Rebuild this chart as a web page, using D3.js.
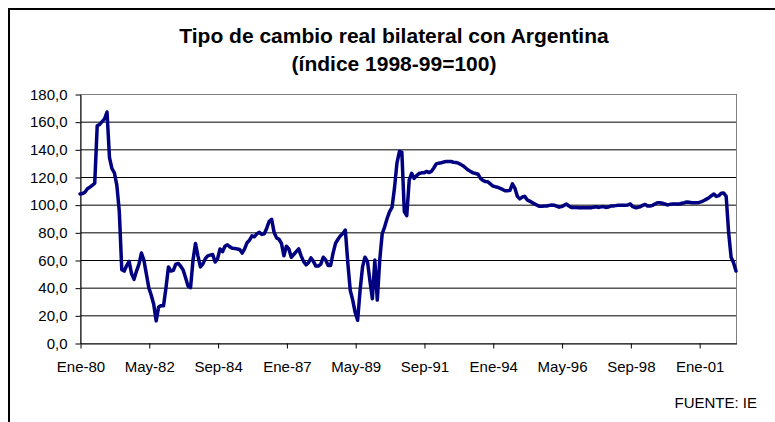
<!DOCTYPE html>
<html>
<head>
<meta charset="utf-8">
<script src="https://cdn.jsdelivr.net/npm/d3@7"></script>
<style>
  body { margin: 0; background: #fff; }
  svg { display: block; font-family: Arial, "Liberation Sans", sans-serif; }
</style>
</head>
<body>
<div id="chart"></div>
<script>
const width = 775, height = 422;

const titleLines = ["Tipo de cambio real bilateral con Argentina", "(índice 1998-99=100)"];
const sourceNote = "FUENTE: IE";

// monthly index, Ene-80 .. Abr-02
const values = [
  107.7, 108, 109, 111.5, 112.6, 114, 115.5, 157, 158, 160, 162, 167,
  134, 126, 123, 114, 95, 53, 52, 56, 59, 50, 46, 52,
  57, 65, 60, 50, 40, 34.5, 28, 16, 26, 27, 27, 40,
  55, 52, 52.5, 57, 57.5, 55.5, 52.7, 47, 41, 40, 60, 72,
  63, 55, 57, 61, 63, 63.5, 64, 58.5, 61, 68, 66, 70,
  71, 69.5, 68.5, 68.4, 68, 67.6, 65, 68, 72.5, 74.4, 77.5, 76.8,
  79, 80, 78.5, 79, 83, 88, 89.4, 80, 76, 75, 72, 63,
  70, 68, 62, 64, 66, 68, 63, 59, 56.5, 58, 61.5, 59,
  55.6, 55.6, 57, 62, 60, 56, 56, 65, 72, 75, 77.5, 79.2,
  81.6, 58, 38, 31, 22, 16.4, 38, 55, 62, 59, 45, 32,
  60, 31, 60, 79, 84, 90, 95, 98, 112, 130, 138.4, 138,
  95, 92, 118, 122.7, 119, 121, 122.5, 123, 123, 124, 123.2, 124,
  126.5, 129.5, 130, 130.3, 130.8, 131.2, 131.2, 131.2, 130.7, 130.5, 130, 129,
  128, 126.5, 125, 124, 123, 122.5, 122, 119, 117.5, 116.7, 116.5, 115,
  113.5, 113, 112.6, 111.8, 111, 110, 110, 110.4, 115, 112, 106, 104.2,
  105.5, 106, 103.5, 102.6, 101.5, 100.6, 99.6, 98.8, 98.8, 99, 99, 99.5,
  99.8, 99.6, 99, 98.2, 98.6, 99.5, 100.5, 99, 98, 98, 97.9, 97.8,
  97.8, 97.8, 97.8, 97.8, 97.8, 98.2, 98.5, 98, 98.4, 98.6, 98, 98.3,
  99, 99, 99.3, 99.5, 99.5, 99.5, 99.5, 99.8, 100.5, 98.5, 97.8, 98,
  98.5, 99.5, 100.2, 99, 99, 99.5, 100.5, 101.4, 101.4, 101, 100.5, 99.8,
  100.2, 100.5, 100.5, 100.5, 100.5, 101, 101.4, 102, 101.8, 101.4, 101.4, 101.4,
  101.6, 102.2, 103, 104, 105, 106.5, 107.7, 106, 106.5, 108.3, 108.5, 106,
  80, 62, 58, 52
];

const tickIndex = [0, 28, 56, 84, 112, 140, 168, 196, 224, 252];
const tickLabels = ["Ene-80", "May-82", "Sep-84", "Ene-87", "May-89", "Sep-91", "Ene-94", "May-96", "Sep-98", "Ene-01"];
const yTicks = [0, 20, 40, 60, 80, 100, 120, 140, 160, 180];

const plot = { left: 80, right: 736, top: 94, bottom: 343 };

const svg = d3.select("#chart").append("svg")
  .attr("width", width)
  .attr("height", height);

svg.append("rect")
  .attr("width", width).attr("height", height)
  .attr("fill", "#fff");

// outer chart border (runs off the right and bottom edge)
svg.append("rect")
  .attr("x", 9).attr("y", 9)
  .attr("width", 820).attr("height", 460)
  .attr("fill", "none")
  .attr("stroke", "#000")
  .attr("stroke-width", 2);

const x = d3.scaleLinear().domain([0, values.length - 1]).range([plot.left, plot.right]);
const y = d3.scaleLinear().domain([0, 180]).range([plot.bottom, plot.top]);

// gridlines
svg.append("g")
  .selectAll("line")
  .data(yTicks.filter(d => d > 0 && d < 180))
  .enter().append("line")
  .attr("x1", plot.left).attr("x2", plot.right)
  .attr("y1", d => y(d) + 0.5).attr("y2", d => y(d) + 0.5)
  .attr("stroke", "#000")
  .attr("stroke-width", 1);

// plot area border
svg.append("rect")
  .attr("x", plot.left + 0.5).attr("y", plot.top + 0.5)
  .attr("width", plot.right - plot.left).attr("height", plot.bottom - plot.top)
  .attr("fill", "none")
  .attr("stroke", "#808080")
  .attr("stroke-width", 1);

const fmt = d => d3.format(".1f")(d).replace(".", ",");

const yAxis = svg.append("g")
  .attr("transform", "translate(" + (plot.left + 0.5) + ",0.5)")
  .call(d3.axisLeft(y).tickValues(yTicks).tickFormat(fmt).tickSize(5).tickSizeOuter(0).tickPadding(8));

const xAxis = svg.append("g")
  .attr("transform", "translate(0.5," + (plot.bottom + 0.5) + ")")
  .call(d3.axisBottom(x).tickValues(tickIndex).tickFormat((d, i) => tickLabels[i]).tickSize(5).tickSizeOuter(0).tickPadding(13));

[yAxis, xAxis].forEach(a => {
  a.selectAll("text").attr("font-size", 15).attr("fill", "#000").attr("font-family", "Arial, 'Liberation Sans', sans-serif");
  a.selectAll("line, path").attr("stroke", "#000");
});

const line = d3.line()
  .x((d, i) => x(i))
  .y(d => y(d));

svg.append("path")
  .datum(values)
  .attr("d", line)
  .attr("fill", "none")
  .attr("stroke", "#000080")
  .attr("stroke-width", 3.5)
  .attr("stroke-linejoin", "round")
  .attr("stroke-linecap", "round");

svg.append("g")
  .selectAll("text")
  .data(titleLines)
  .enter().append("text")
  .attr("x", 394)
  .attr("y", (d, i) => 43 + i * 28)
  .attr("text-anchor", "middle")
  .attr("font-size", 21)
  .attr("font-weight", "bold")
  .text(d => d);

svg.append("text")
  .attr("x", 757).attr("y", 408)
  .attr("text-anchor", "end")
  .attr("font-size", 15)
  .text(sourceNote);
</script>
</body>
</html>
